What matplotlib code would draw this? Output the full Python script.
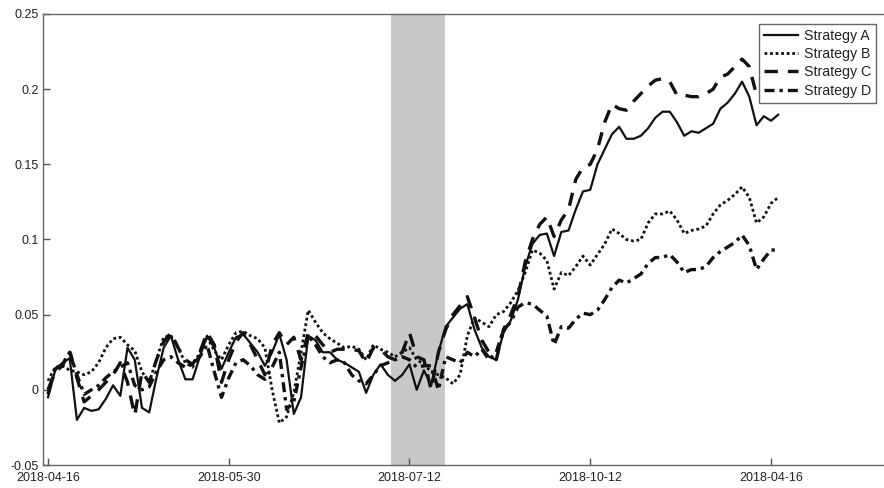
import numpy as np
import matplotlib
matplotlib.use("Agg")
import matplotlib.pyplot as plt

plt.rcParams['font.family'] = ['Liberation Sans', 'DejaVu Sans']

strategy_a = [-0.005, 0.013, 0.018, 0.021, -0.020, -0.012, -0.014, -0.013, -0.006, 0.003,
              -0.004, 0.028, 0.020, -0.012, -0.015, 0.008, 0.028, 0.036, 0.020, 0.007,
              0.007, 0.022, 0.036, 0.028, 0.014, 0.025, 0.035, 0.037, 0.031, 0.025,
              0.016, 0.025, 0.037, 0.020, -0.016, -0.005, 0.036, 0.033, 0.025, 0.025,
              0.020, 0.018, 0.015, 0.012, -0.002, 0.010, 0.017, 0.010, 0.006, 0.010,
              0.017, 0.000, 0.013, 0.003, 0.025, 0.042, 0.048, 0.054, 0.057, 0.040,
              0.028, 0.022, 0.020, 0.038, 0.046, 0.060, 0.082, 0.097, 0.103, 0.104,
              0.089, 0.105, 0.106, 0.120, 0.132, 0.133, 0.150, 0.160, 0.170, 0.175,
              0.167, 0.167, 0.169, 0.174, 0.181, 0.185, 0.185, 0.178, 0.169, 0.172,
              0.171, 0.174, 0.177, 0.187, 0.191, 0.197, 0.205, 0.195, 0.176, 0.182,
              0.179, 0.183]

strategy_b = [0.006, 0.015, 0.016, 0.013, 0.012, 0.010, 0.012, 0.018, 0.028, 0.034,
              0.035, 0.030, 0.026, 0.012, 0.005, 0.020, 0.035, 0.036, 0.028, 0.018,
              0.015, 0.025, 0.035, 0.026, 0.020, 0.030, 0.038, 0.039, 0.036, 0.034,
              0.028, 0.000, -0.022, -0.018, -0.002, 0.025, 0.053, 0.045, 0.038, 0.034,
              0.031, 0.028, 0.029, 0.027, 0.020, 0.030, 0.027, 0.025, 0.022, 0.025,
              0.028, 0.020, 0.017, 0.012, 0.010, 0.008, 0.004, 0.010, 0.036, 0.048,
              0.045, 0.042, 0.050, 0.052, 0.058, 0.066, 0.078, 0.093, 0.091, 0.086,
              0.067, 0.078, 0.076, 0.082, 0.089, 0.083, 0.090, 0.097, 0.107, 0.104,
              0.100, 0.099, 0.100, 0.111, 0.117, 0.117, 0.119, 0.113, 0.104, 0.106,
              0.107, 0.109, 0.117, 0.123, 0.126, 0.130, 0.135, 0.128, 0.111, 0.115,
              0.124, 0.128]

strategy_c = [0.000, 0.012, 0.016, 0.026, 0.008, -0.008, -0.004, 0.000, 0.005, 0.010,
              0.018, 0.005, -0.017, 0.012, 0.005, 0.020, 0.032, 0.038, 0.028, 0.020,
              0.017, 0.025, 0.038, 0.030, 0.005, 0.020, 0.032, 0.038, 0.030, 0.020,
              0.010, 0.030, 0.038, 0.030, 0.035, 0.020, 0.038, 0.036, 0.030, 0.025,
              0.027, 0.027, 0.027, 0.026, 0.018, 0.028, 0.027, 0.022, 0.020, 0.025,
              0.038, 0.022, 0.020, 0.000, 0.025, 0.040, 0.050, 0.056, 0.062, 0.048,
              0.033, 0.025, 0.020, 0.040, 0.050, 0.062, 0.085, 0.100, 0.110, 0.115,
              0.102, 0.113, 0.120, 0.140, 0.148, 0.150, 0.160, 0.178, 0.190, 0.187,
              0.186, 0.192, 0.197, 0.202, 0.206, 0.207, 0.205, 0.196, 0.196, 0.195,
              0.195, 0.197, 0.200, 0.208, 0.210, 0.215, 0.220, 0.215, 0.196, 0.197,
              0.200, 0.200]

strategy_d = [-0.003, 0.014, 0.017, 0.025, 0.010, -0.003, 0.000, 0.003, 0.008, 0.012,
              0.015, 0.018, 0.003, 0.000, 0.002, 0.012, 0.020, 0.022, 0.018, 0.015,
              0.017, 0.022, 0.030, 0.012, -0.005, 0.008, 0.018, 0.020, 0.016, 0.010,
              0.007, 0.015, 0.025, -0.013, -0.008, 0.015, 0.036, 0.030, 0.022, 0.018,
              0.020, 0.018, 0.010, 0.006, 0.004, 0.010, 0.016, 0.018, 0.020, 0.022,
              0.020, 0.015, 0.016, 0.016, 0.000, 0.022, 0.020, 0.018, 0.025, 0.022,
              0.027, 0.020, 0.025, 0.040, 0.045, 0.055, 0.058, 0.057, 0.053, 0.049,
              0.030, 0.042, 0.041, 0.047, 0.051, 0.050, 0.053, 0.060, 0.068, 0.073,
              0.071, 0.074, 0.077, 0.084, 0.088, 0.088, 0.090, 0.085, 0.078, 0.080,
              0.080, 0.082, 0.088, 0.092, 0.095, 0.098, 0.103, 0.096, 0.080, 0.087,
              0.093, 0.093]

series_labels = ['Strategy A', 'Strategy B', 'Strategy C', 'Strategy D']
tick_index = [0, 25, 50, 75, 100]
tick_labels = ['2018-04-16', '2018-05-30', '2018-07-12', '2018-10-12', '2018-04-16']
band_start, band_end = 47.4, 54.9
y_ticks = [-0.05, 0, 0.05, 0.1, 0.15, 0.2, 0.25]
y_tick_labels = ['-0.05', '0', '0.05', '0.1', '0.15', '0.2', '0.25']

W, H = 884, 488
fig = plt.figure(figsize=(W / 100, H / 100), dpi=100)
ax = fig.add_axes([43 / W, 23 / H, (895 - 43) / W, 451 / H])

x = np.arange(len(strategy_a))
ink = '#111111'
ax.axvspan(band_start, band_end, color='#c8c8c8', zorder=0, lw=0)
ax.plot(x, strategy_a, color=ink, lw=1.6, ls='-', label=series_labels[0], zorder=3)
ax.plot(x, strategy_b, color=ink, lw=2.0, ls=(0, (1, 1)), label=series_labels[1], zorder=3)
ax.plot(x, strategy_c, color=ink, lw=2.4, ls=(0, (4, 3)), label=series_labels[2], zorder=3)
ax.plot(x, strategy_d, color=ink, lw=2.4, ls=(0, (3, 1.5, 1, 1.5)), label=series_labels[3], zorder=3)

px = (895 - 43) / 7.23
ax.set_xlim(-0.69, -0.69 + px)
ax.set_ylim(-0.05, 0.25)
ax.set_xticks(tick_index)
ax.set_xticklabels(tick_labels)
ax.set_yticks(y_ticks)
ax.set_yticklabels(y_tick_labels)
ax.tick_params(direction='in', length=5, width=1, colors='#555555', labelcolor='#222222',
               labelsize=9)
ax.tick_params(axis='x', pad=5)
ax.tick_params(axis='y', pad=3)
for s in ['left', 'bottom', 'top', 'right']:
    ax.spines[s].set_color('#666666')
    ax.spines[s].set_linewidth(1.0)
ax.spines['right'].set_visible(False)

leg = ax.legend(loc='upper right', bbox_to_anchor=(876 / W, (H - 24) / H),
                bbox_transform=fig.transFigure, borderaxespad=0, fancybox=False,
                framealpha=1, edgecolor='#666666', fontsize=10.2, handlelength=2.4,
                handletextpad=0.4, labelspacing=0.3, borderpad=0.35)
leg.get_frame().set_linewidth(1.0)
for t in leg.get_texts():
    t.set_color('#222222')

fig.savefig('out.png', dpi=100)
